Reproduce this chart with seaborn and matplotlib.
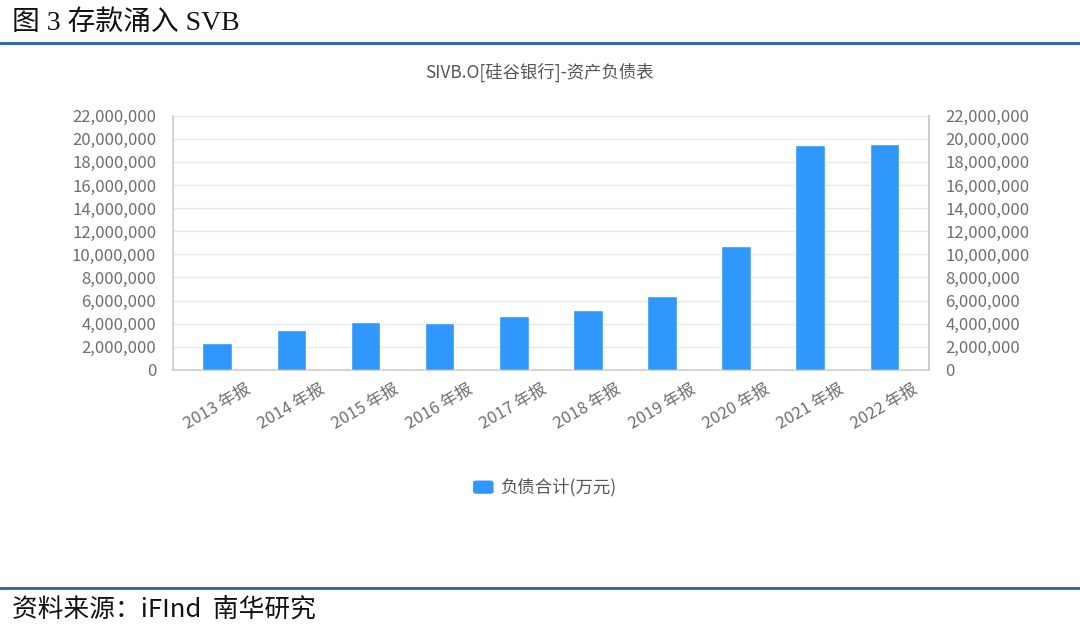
import numpy as np
import pandas as pd
import seaborn as sns
import matplotlib.pyplot as plt
from matplotlib.lines import Line2D
from matplotlib.patches import FancyBboxPatch
from matplotlib.ticker import FuncFormatter

years = ["2013 年报", "2014 年报", "2015 年报", "2016 年报", "2017 年报",
         "2018 年报", "2019 年报", "2020 年报", "2021 年报", "2022 年报"]
liabilities = [2310000, 3490000, 4100000, 4040000, 4650000,
               5140000, 6410000, 10740000, 19490000, 19550000]
y_ticks = list(range(0, 22000001, 2000000))

sns.set_theme(style="white")
plt.rcParams['font.family'] = ['Noto Sans CJK SC', 'DejaVu Sans']

df = pd.DataFrame({"year": years, "value": liabilities})

fig = plt.figure(figsize=(10.8, 6.29), dpi=100)
ax = fig.add_axes([0.160, 0.412, 0.700, 0.404])

bar_color = "#3097fd"
sns.barplot(data=df, x="year", y="value", color=bar_color, width=0.4,
            saturation=1, ax=ax, zorder=3)

ax.set_ylim(0, 22000000)
ax.set_yticks(y_ticks)
fmt = FuncFormatter(lambda v, p: f"{int(v):,}")
ax.yaxis.set_major_formatter(fmt)
ax.set_xlim(-0.6, len(years) - 0.4)
ax.set_xlabel("")
ax.set_ylabel("")
ax.grid(axis="y", color="#e8e8e8", linewidth=1, zorder=0)
ax.grid(axis="x", visible=False)

tick_color = "#6e6e6e"
ax.tick_params(axis="y", labelsize=12, colors=tick_color, length=0, pad=12)
ax.tick_params(axis="x", labelsize=12, colors=tick_color, length=0, pad=8)
for lab in ax.get_xticklabels():
    lab.set_rotation(30)
    lab.set_ha("center")
    lab.set_va("top")

ax.spines["top"].set_visible(False)
for s in ["left", "right", "bottom"]:
    ax.spines[s].set_color("#cccccc")
    ax.spines[s].set_linewidth(1.2)

ax2 = ax.twinx()
ax2.set_ylim(0, 22000000)
ax2.set_yticks(y_ticks)
ax2.yaxis.set_major_formatter(fmt)
ax2.tick_params(axis="y", labelsize=12, colors=tick_color, length=0, pad=12)
ax2.grid(False)
for s in ["top", "left", "bottom"]:
    ax2.spines[s].set_visible(False)
ax2.spines["right"].set_color("#cccccc")
ax2.spines["right"].set_linewidth(1.2)

# chart title
fig.text(0.5, 0.885, "SIVB.O[硅谷银行]-资产负债表", ha="center", va="center",
         fontsize=12.5, color="#555555")

# legend
fig.patches.append(FancyBboxPatch((0.438, 0.215), 0.019, 0.021,
                                  boxstyle="round,pad=0,rounding_size=0.003",
                                  transform=fig.transFigure, facecolor=bar_color,
                                  edgecolor="none"))
fig.text(0.463, 0.226, "负债合计(万元)", ha="left", va="center",
         fontsize=12.5, color="#555555")

# header and footer
fig.text(0.011, 0.963, "图 3 存款涌入 SVB", ha="left", va="center",
         fontsize=20, color="#111111",
         family=['Liberation Serif', 'Noto Sans CJK SC'])
fig.add_artist(Line2D([0, 1], [0.931, 0.931], transform=fig.transFigure,
                      color="#1f63b8", linewidth=2))
fig.add_artist(Line2D([0, 1], [0.065, 0.065], transform=fig.transFigure,
                      color="#1f63b8", linewidth=2))
fig.text(0.011, 0.029, "资料来源：iFInd  南华研究", ha="left", va="center",
         fontsize=18.5, color="#111111")

fig.savefig("out.png", dpi=100)
